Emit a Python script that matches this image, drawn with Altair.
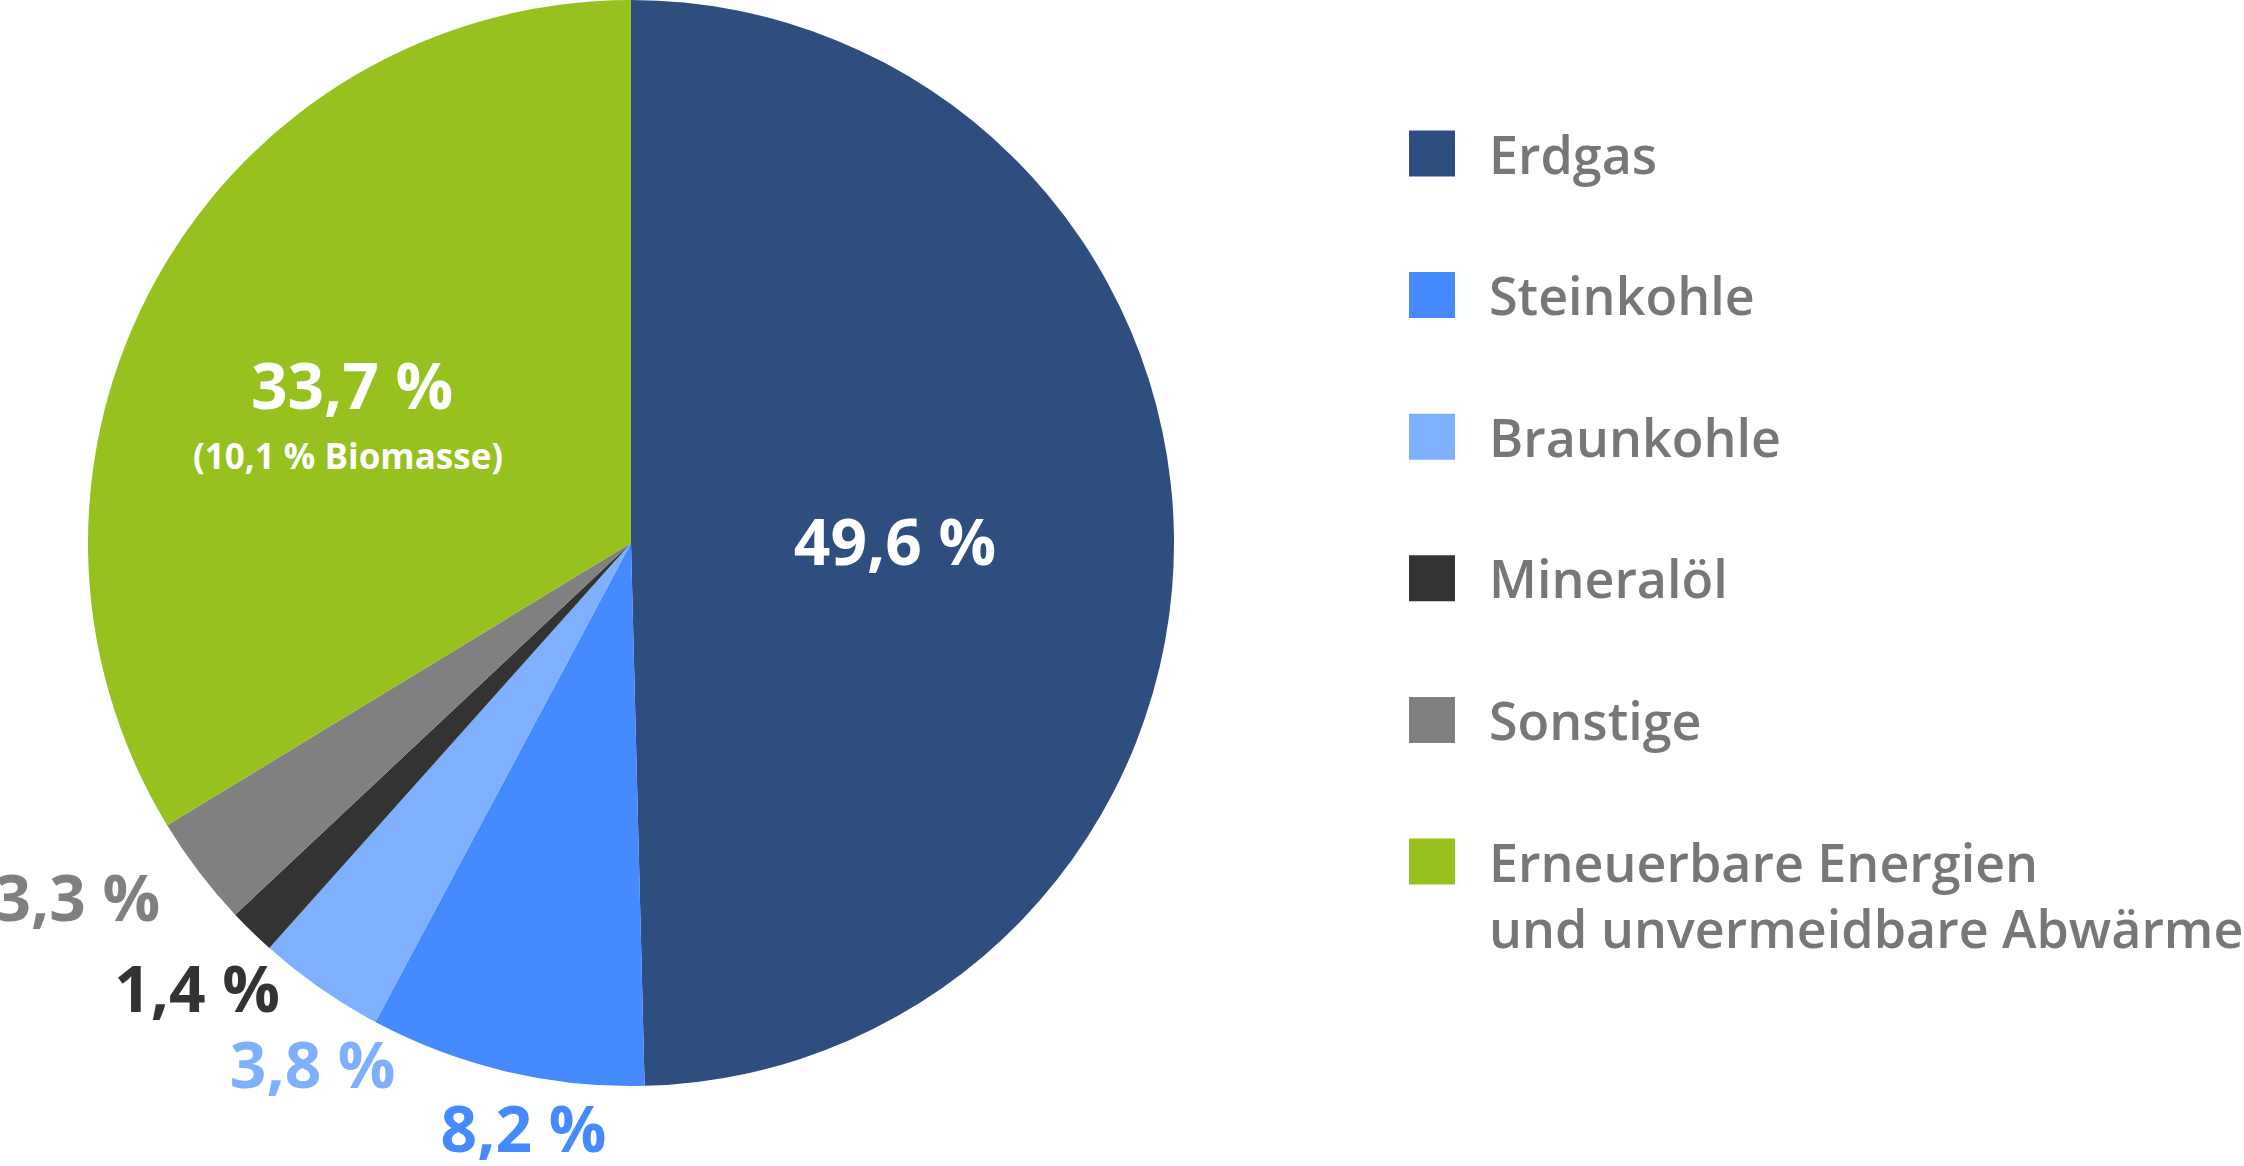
import altair as alt
import pandas as pd

# ---- data ----
categories = ["Erdgas", "Steinkohle", "Braunkohle", "Mineralöl", "Sonstige",
              "Erneuerbare Energien und unvermeidbare Abwärme"]
legend_labels = ["Erdgas", "Steinkohle", "Braunkohle", "Mineralöl", "Sonstige",
                 "Erneuerbare Energien\nund unvermeidbare Abwärme"]
values = [49.6, 8.2, 3.8, 1.4, 3.3, 33.7]
value_labels = ["49,6 %", "8,2 %", "3,8 %", "1,4 %", "3,3 %", "33,7 %"]
sub_label = "(10,1 % Biomasse)"
colors = ["#2D4E7E", "#458BFF", "#7FAFFF", "#333333", "#808080", "#96C11E"]

df = pd.DataFrame({
    "category": categories,
    "legend": legend_labels,
    "value": values,
    "label": value_labels,
    "idx": list(range(len(categories))),
})

# ---- layout / style ----
R = 543
FONT = "Open Sans"
label_layout = {
    # category: (radius, dx, dy, colour)
    "Erdgas": (264, 0, 6, "white"),
    "Steinkohle": (597, 30, 9, colors[1]),
    "Braunkohle": (612, 32, 24, colors[2]),
    "Mineralöl": (623, 1, 4, colors[3]),
    "Sonstige": (658, -30, -39, colors[4]),
    categories[5]: (320, 0, 4, "white"),
}

color_scale = alt.Scale(domain=categories, range=colors)
theta_scale = alt.Scale(domain=[0, 100], range=[0, 6.283185307179586])

base = alt.Chart(df).transform_window(
    cum="sum(value)", sort=[alt.SortField("idx", order="ascending")]
).transform_calculate(
    start="datum.cum - datum.value",
    mid="datum.cum - datum.value / 2",
)

arcs = base.mark_arc(outerRadius=R).encode(
    theta=alt.Theta("start:Q", scale=theta_scale),
    theta2="cum:Q",
    color=alt.Color("category:N", scale=color_scale, legend=None),
)

layers = [arcs]
for cat, (rad, dx, dy, col) in label_layout.items():
    layers.append(
        base.transform_filter(alt.datum.category == cat)
        .mark_text(radius=rad, dx=dx, dy=dy, fontSize=64, font=FONT,
                   fontWeight="bold", color=col, baseline="middle", align="center")
        .encode(theta=alt.Theta("mid:Q", scale=theta_scale), text="label:N")
    )

layers.append(
    base.transform_filter(alt.datum.category == categories[5])
    .transform_calculate(sub="'" + sub_label + "'")
    .mark_text(radius=320, dx=-4, dy=72, fontSize=35, font=FONT,
               fontWeight="bold", color="white", baseline="middle", align="center")
    .encode(theta=alt.Theta("mid:Q", scale=theta_scale), text="sub:N")
)

legend_y = alt.Y("category:N", sort=categories,
                 scale=alt.Scale(type="point", range=[153.5, 861.5], padding=0),
                 axis=None)

legend_sq = alt.Chart(df).mark_square(size=46 * 46, opacity=1, filled=True).encode(
    x=alt.value(1432),
    y=legend_y,
    color=alt.Color("category:N", scale=color_scale, legend=None),
)
legend_txt = alt.Chart(df).mark_text(
    align="left", baseline="alphabetic", dy=20, fontSize=52, font=FONT,
    fontWeight=600, color="#777777", lineBreak="\n", lineHeight=66,
).encode(x=alt.value(1489), y=legend_y, text="legend:N")

layers += [legend_sq, legend_txt]

chart = alt.layer(*layers).properties(
    width=2 * 631, height=2 * R,
    autosize=alt.AutoSizeParams(type="none"),
    padding={"left": 0, "top": 0, "right": 2244 - 2 * 631, "bottom": 1166 - 2 * R},
    background="white",
).configure_view(stroke=None)

chart.save("out.html", embed_options={"renderer": "svg", "actions": False})
